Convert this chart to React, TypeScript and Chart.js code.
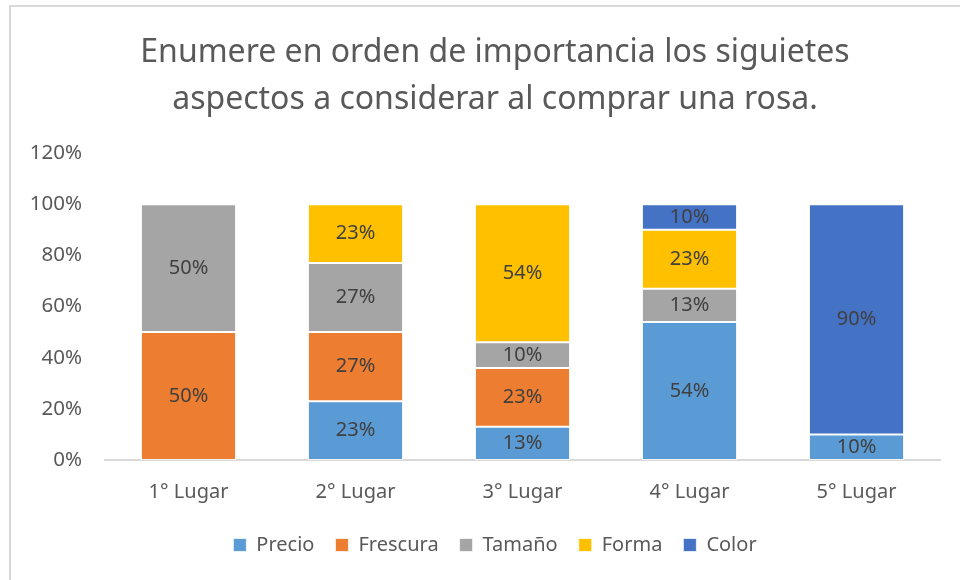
import React, { useEffect, useRef } from "react";
import { Chart, registerables } from "chart.js";

Chart.register(...registerables);

const categories = ["1° Lugar", "2° Lugar", "3° Lugar", "4° Lugar", "5° Lugar"];
const seriesNames = ["Precio", "Frescura", "Tamaño", "Forma", "Color"];
const precio = [0, 23, 13, 54, 10];
const frescura = [50, 27, 23, 0, 0];
const tamano = [50, 27, 10, 13, 0];
const forma = [0, 23, 54, 23, 0];
const color = [0, 0, 0, 10, 90];
const yTicks = [0, 20, 40, 60, 80, 100, 120];
const titleLines = [
  "Enumere en orden de importancia los siguietes",
  "aspectos a considerar al comprar una rosa.",
];

const colors = ["#5b9bd5", "#ed7d31", "#a5a5a5", "#ffc000", "#4472c4"];
const FONT = "'Noto Sans', 'Open Sans', sans-serif";

const labelPlugin = {
  id: "segLabels",
  afterDatasetsDraw(chart: any) {
    const ctx = chart.ctx;
    ctx.save();
    ctx.font = `20px ${FONT}`;
    ctx.fillStyle = "#404040";
    ctx.textAlign = "center";
    ctx.textBaseline = "middle";
    chart.data.datasets.forEach((ds: any, i: number) => {
      const meta = chart.getDatasetMeta(i);
      meta.data.forEach((el: any, j: number) => {
        const v = ds.data[j];
        if (!v) return;
        const { x, y, base } = el.getProps(["x", "y", "base"], true);
        ctx.fillText(`${v}%`, x, (y + base) / 2);
      });
    });
    ctx.restore();
  },
};

export default function App() {
  const ref = useRef<HTMLCanvasElement | null>(null);
  useEffect(() => {
    if (!ref.current) return;
    const all = [precio, frescura, tamano, forma, color];
    const chart = new Chart(ref.current, {
      type: "bar",
      data: {
        labels: categories,
        datasets: seriesNames.map((n, i) => ({
          label: n,
          data: all[i],
          backgroundColor: colors[i],
          borderColor: "rgba(255,255,255,0.7)",
          borderWidth: 1,
          borderSkipped: false,
          categoryPercentage: 1,
          barPercentage: 0.57,
          yAxisID: "y",
        })),
      },
      options: {
        animation: false,
        responsive: true,
        maintainAspectRatio: false,
        layout: { padding: { left: 19, right: 0, top: 0, bottom: 15 } },
        plugins: {
          title: {
            display: true,
            text: titleLines,
            color: "#595959",
            font: { family: FONT, size: 32, weight: "normal", lineHeight: 1.47 },
            padding: { top: 22, bottom: 30 },
          },
          legend: {
            position: "bottom",
            labels: {
              boxWidth: 13,
              boxHeight: 13,
              color: "#595959",
              font: { family: FONT, size: 20 },
              padding: 21,
            },
          },
          tooltip: { enabled: false },
        },
        scales: {
          x: {
            stacked: true,
            afterFit: (s: any) => { s.height = 54; },
            grid: { display: false },
            border: { display: true, color: "#d9d9d9", width: 2 },
            ticks: { color: "#595959", font: { family: FONT, size: 20 }, padding: 12 },
          },
          y: {
            stacked: true,
            position: "left",
            min: 0,
            max: 120,
            afterFit: (s: any) => { s.width = 75; },
            afterBuildTicks: (s: any) => { s.ticks = yTicks.map((v) => ({ value: v })); },
            grid: { display: false },
            border: { display: false },
            ticks: {
              color: "#595959",
              font: { family: FONT, size: 20.5 },
              padding: 15,
              callback: (v: any) => `${v}%`,
            },
          },
          yRight: {
            position: "right",
            display: true,
            afterFit: (s: any) => { s.width = 20; },
            grid: { display: false },
            border: { display: false },
            ticks: { display: false },
          },
        },
      },
      plugins: [labelPlugin],
    });
    return () => chart.destroy();
  }, []);
  return (
    <div
      style={{
        position: "fixed",
        left: 0,
        top: 0,
        width: 960,
        height: 580,
        background: "#fff",
      }}
    >
      <div
        style={{
          position: "absolute",
          left: 9,
          top: 5,
          right: 0,
          bottom: 0,
          borderLeft: "2px solid #d9d9d9",
          borderTop: "2px solid #d9d9d9",
        }}
      />
      <div style={{ position: "absolute", left: 11, top: 7, width: 949, height: 573 }}>
        <canvas ref={ref} />
      </div>
    </div>
  );
}
